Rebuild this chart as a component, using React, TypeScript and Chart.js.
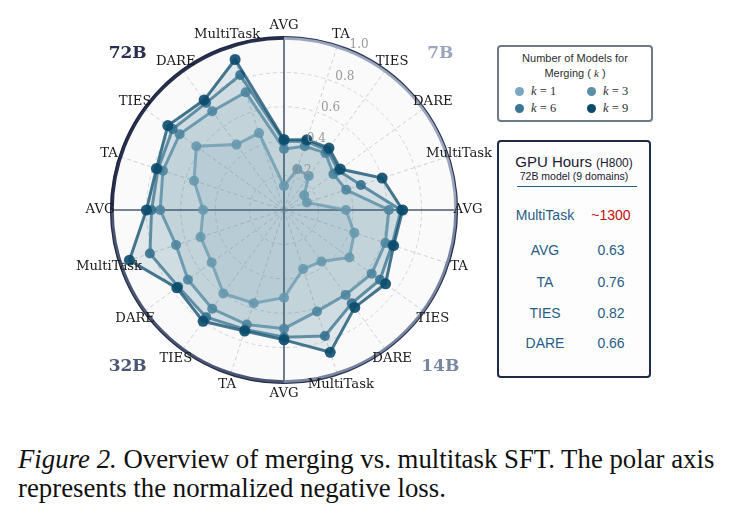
import React, { useEffect, useRef } from "react";
import { Chart, registerables } from "chart.js";

Chart.register(...registerables);

const methods = ["AVG", "TA", "TIES", "DARE", "MultiTask"];
const groups = ["7B", "14B", "32B", "72B"];
const axisLabels = groups.flatMap(() => methods);
const tickValues = [0.2, 0.4, 0.6, 0.8, 1.0];

const k1 = [0.14, 0.25, 0.245, 0.145, 0.14, 0.36, 0.43, 0.47, 0.37, 0.36, 0.51, 0.57, 0.6, 0.52, 0.51, 0.47, 0.55, 0.63, 0.47, 0.47];
const k3 = [0.355, 0.39, 0.41, 0.355, 0.38, 0.61, 0.62, 0.63, 0.61, 0.62, 0.69, 0.7, 0.71, 0.69, 0.66, 0.72, 0.74, 0.75, 0.71, 0.72];
const k6 = [0.4, 0.42, 0.43, 0.39, 0.47, 0.68, 0.66, 0.69, 0.67, 0.77, 0.74, 0.73, 0.77, 0.76, 0.82, 0.77, 0.77, 0.8, 0.77, 0.825];
const k9 = [0.41, 0.43, 0.445, 0.405, 0.6, 0.69, 0.67, 0.73, 0.7, 0.87, 0.755, 0.74, 0.8, 0.77, 0.945, 0.8, 0.78, 0.835, 0.79, 0.92];

const seriesNames = ["k = 1", "k = 3", "k = 6", "k = 9"];
const seriesColors = ["#7ca8bd", "#5a8fa7", "#3b7692", "#0b4b6b"];
const seriesData = [k1, k3, k6, k9];

const groupColors = ["#9aa6bd", "#7886a2", "#4b5673", "#272f4d"];

const gpuMethods = ["MultiTask", "AVG", "TA", "TIES", "DARE"];
const gpuHours = ["~1300", "0.63", "0.76", "0.82", "0.66"];

function rgba(hex: string, a: number) {
  const n = parseInt(hex.slice(1), 16);
  return `rgba(${(n >> 16) & 255},${(n >> 8) & 255},${n & 255},${a})`;
}

const decorPlugin = {
  id: "decor",
  beforeDraw(chart: any) {
    const s = chart.scales.r;
    const ctx = chart.ctx;
    ctx.save();
    ctx.beginPath();
    ctx.arc(s.xCenter, s.yCenter, s.drawingArea, 0, Math.PI * 2);
    ctx.fillStyle = "#fafafa";
    ctx.fill();
    ctx.restore();
  },
  afterDraw(chart: any) {
    const s = chart.scales.r;
    const ctx = chart.ctx;
    const cx = s.xCenter;
    const cy = s.yCenter;
    const R = s.drawingArea;
    ctx.save();
    for (let g = 0; g < 4; g++) {
      const a0 = -Math.PI / 2 + (g * Math.PI) / 2;
      ctx.beginPath();
      ctx.arc(cx, cy, R, a0, a0 + Math.PI / 2);
      ctx.strokeStyle = groupColors[g];
      ctx.lineWidth = 3.5;
      ctx.stroke();
    }
    ctx.beginPath();
    ctx.arc(cx, cy, R + 1.5, 0, Math.PI * 2);
    ctx.strokeStyle = "rgba(25,32,58,0.85)";
    ctx.lineWidth = 1.2;
    ctx.stroke();

    ctx.font = "13.2px 'DejaVu Serif'";
    ctx.fillStyle = "#1a1a1a";
    ctx.textAlign = "center";
    ctx.textBaseline = "middle";
    axisLabels.forEach((lab, i) => {
      const p = s.getPointPosition(i, R + 12);
      ctx.fillText(lab, p.x, p.y);
    });

    ctx.font = "12px 'DejaVu Serif'";
    ctx.fillStyle = "#9a9a9a";
    const ang = (24.5 * Math.PI) / 180;
    tickValues.forEach((v) => {
      const d = s.getDistanceFromCenterForValue(v) + 9;
      ctx.fillText(v.toFixed(1), cx + d * Math.sin(ang), cy - d * Math.cos(ang));
    });

    ctx.font = "bold 17px 'DejaVu Serif'";
    groups.forEach((g, i) => {
      const a = ((45 + 90 * i) * Math.PI) / 180;
      const d = R + 49;
      ctx.fillStyle = groupColors[i];
      ctx.fillText(g, cx + d * Math.sin(a), cy - d * Math.cos(a));
    });
    ctx.restore();
  },
};

function RadarChart() {
  const ref = useRef<HTMLCanvasElement>(null);
  useEffect(() => {
    if (!ref.current) return;
    const chart = new Chart(ref.current, {
      type: "radar",
      data: {
        labels: axisLabels,
        datasets: seriesData.map((d, i) => ({
          label: seriesNames[i],
          data: d,
          order: 4 - i,
          borderColor: rgba(seriesColors[i], 0.75),
          backgroundColor: rgba(seriesColors[i], 0.1),
          fill: true,
          borderWidth: 3,
          pointRadius: i === 3 ? 5.5 : 5,
          pointBorderWidth: 0,
          pointBackgroundColor: rgba(seriesColors[i], 0.9),
          pointBorderColor: rgba(seriesColors[i], 0.9),
        })),
      },
      options: {
        responsive: false,
        animation: false,
        layout: { padding: { left: 112, right: 112, top: 38, bottom: 38 } },
        plugins: { legend: { display: false }, tooltip: { enabled: false } },
        scales: {
          r: {
            min: 0,
            max: 1,
            ticks: { display: false, stepSize: 0.2 },
            pointLabels: { display: false },
            grid: { circular: true, color: "rgba(170,180,190,0.5)", lineWidth: 1 },
            border: { dash: [4, 3] },
            angleLines: {
              color: (c: any) => (c.index % 5 === 0 ? "#4d5a6e" : "rgba(160,175,190,0.55)"),
              lineWidth: (c: any) => (c.index % 5 === 0 ? 1.6 : 1),
              borderDash: (c: any) => (c.index % 5 === 0 ? [] : [4, 3]),
            },
          },
        },
      },
      plugins: [decorPlugin],
    });
    return () => chart.destroy();
  }, []);
  return (
    <canvas
      ref={ref}
      width={568}
      height={420}
      style={{ position: "absolute", left: 0, top: 0, width: 568, height: 420 }}
    />
  );
}

export default function App() {
  const sans = "'Liberation Sans', Arial, sans-serif";
  return (
    <div style={{ position: "fixed", left: 0, top: 0, width: 735, height: 518, background: "#fff", overflow: "hidden" }}>
      <RadarChart />
      <div
        style={{
          position: "absolute",
          left: 497,
          top: 45,
          width: 156,
          height: 77,
          boxSizing: "border-box",
          border: "2px solid #707a86",
          borderRadius: 4,
          background: "#fff",
          fontFamily: sans,
          color: "#2e2e2e",
        }}
      >
        <div style={{ position: "absolute", left: 0, right: 0, top: 4, textAlign: "center", fontSize: 11, lineHeight: "14.5px" }}>
          Number of Models for
          <br />
          Merging ( <span style={{ fontFamily: "'Liberation Serif', serif", fontStyle: "italic" }}>k</span> )
        </div>
        {seriesNames.map((n, i) => {
          const col = i === 0 || i === 2 ? 0 : 1;
          const row = i < 2 ? 0 : 1;
          return (
            <div
              key={n}
              style={{
                position: "absolute",
                left: 16 + col * 72,
                top: 37 + row * 17,
                height: 14,
                display: "flex",
                alignItems: "center",
                fontFamily: "'Liberation Serif', serif",
                fontSize: 12.5,
              }}
            >
              <span style={{ display: "inline-block", width: 9, height: 9, borderRadius: 5, background: seriesColors[i], marginRight: 7 }} />
              <span style={{ fontStyle: "italic" }}>k</span>
              <span>&nbsp;= {n.split("= ")[1]}</span>
            </div>
          );
        })}
      </div>
      <div
        style={{
          position: "absolute",
          left: 497,
          top: 140,
          width: 154,
          height: 238,
          boxSizing: "border-box",
          border: "2px solid #1f2b46",
          borderRadius: 4,
          background: "#fdfdfe",
          fontFamily: sans,
        }}
      >
        <div style={{ position: "absolute", left: 0, right: 0, top: 11, textAlign: "center", color: "#1b2030", fontSize: 15, lineHeight: "18px" }}>
          GPU Hours <span style={{ fontSize: 12 }}>(H800)</span>
        </div>
        <div style={{ position: "absolute", left: 0, right: 0, top: 28, textAlign: "center", color: "#1b2030", fontSize: 10.5, lineHeight: "13px" }}>
          72B model (9 domains)
        </div>
        <div style={{ position: "absolute", left: 18, width: 120, top: 44, height: 0, borderTop: "1.5px solid #2c5d84" }} />
        {gpuMethods.map((m, i) => {
          const y = [73, 108, 140, 171, 201][i];
          return (
            <React.Fragment key={m}>
              <div style={{ position: "absolute", left: 6, width: 80, top: y - 9, textAlign: "center", fontSize: 14, lineHeight: "18px", color: "#285c84" }}>
                {m}
              </div>
              <div
                style={{
                  position: "absolute",
                  left: 76,
                  width: 72,
                  top: y - 9,
                  textAlign: "center",
                  fontSize: 14,
                  lineHeight: "18px",
                  color: i === 0 ? "#c40d0d" : "#285c84",
                }}
              >
                {gpuHours[i]}
              </div>
            </React.Fragment>
          );
        })}
      </div>
      <div
        style={{
          position: "absolute",
          left: 18,
          top: 445,
          width: 720,
          fontFamily: "'Liberation Serif', 'Times New Roman', serif",
          fontSize: 26.8,
          lineHeight: "29px",
          color: "#111",
          whiteSpace: "nowrap",
        }}
      >
        <span style={{ fontStyle: "italic" }}>Figure 2.</span> Overview of merging vs. multitask SFT. The polar axis
        <br />
        represents the normalized negative loss.
      </div>
    </div>
  );
}
